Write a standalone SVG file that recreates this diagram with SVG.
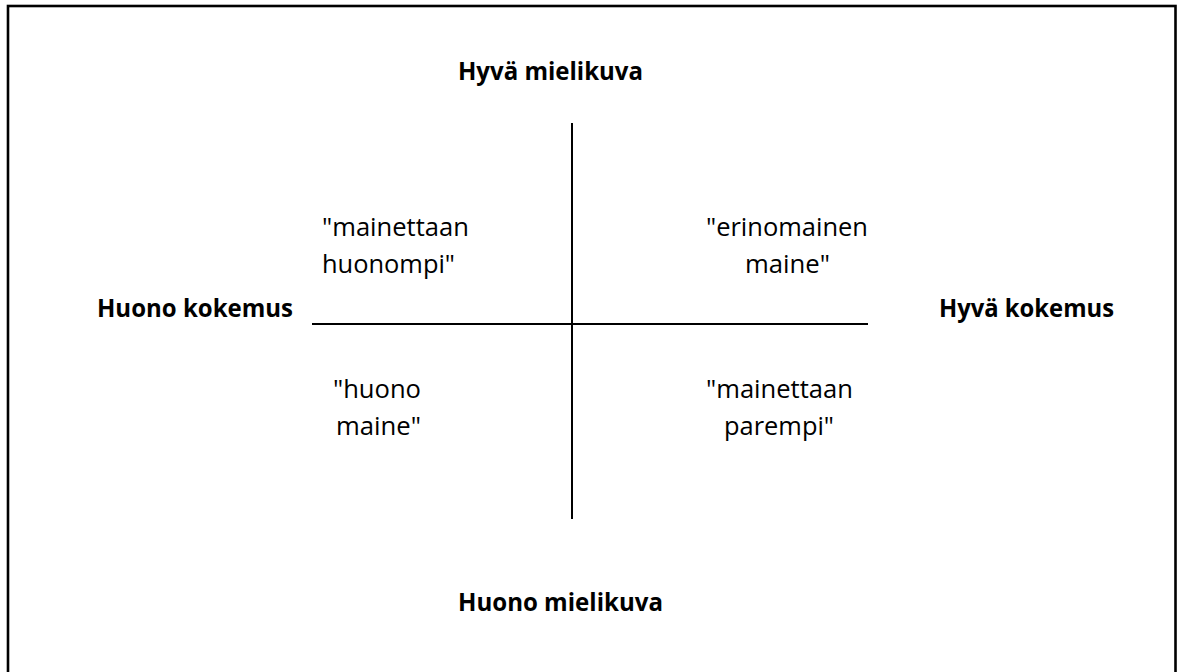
<svg xmlns="http://www.w3.org/2000/svg" width="1181" height="672" viewBox="0 0 1181 672">
<style>
.bold{font-family:"Open Sans","Noto Sans","Liberation Sans",sans-serif;font-weight:700;font-size:25px;fill:#000}
.reg{font-family:"Open Sans","Noto Sans","Liberation Sans",sans-serif;font-weight:400;font-size:25.5px;fill:#000}
.axis{stroke:#000;stroke-width:2;fill:none}
</style>
<rect x="0" y="0" width="1181" height="672" fill="#fff"/>
<rect id="frame" x="8" y="6" width="1167.5" height="720" fill="none" stroke="#000" stroke-width="2.6"/>
<g id="connectors">
<line class="axis" x1="572" y1="123" x2="572" y2="519"/>
<line class="axis" x1="312" y1="324" x2="868" y2="324"/>
</g>
<g id="label-top"><text class="bold" x="458" y="80" textLength="185" lengthAdjust="spacingAndGlyphs">Hyvä mielikuva</text></g>
<g id="label-bottom"><text class="bold" x="458" y="611" textLength="205" lengthAdjust="spacingAndGlyphs">Huono mielikuva</text></g>
<g id="label-left"><text class="bold" x="97" y="317" textLength="196" lengthAdjust="spacingAndGlyphs">Huono kokemus</text></g>
<g id="label-right"><text class="bold" x="939" y="317" textLength="175" lengthAdjust="spacingAndGlyphs">Hyvä kokemus</text></g>
<g id="q-top-left">
<text class="reg" x="322" y="236" textLength="147" lengthAdjust="spacingAndGlyphs">"mainettaan</text>
<text class="reg" x="322" y="273" textLength="133" lengthAdjust="spacingAndGlyphs">huonompi"</text>
</g>
<g id="q-top-right">
<text class="reg" x="706" y="236" textLength="162" lengthAdjust="spacingAndGlyphs">"erinomainen</text>
<text class="reg" x="745" y="273" textLength="85" lengthAdjust="spacingAndGlyphs">maine"</text>
</g>
<g id="q-bottom-left">
<text class="reg" x="333" y="398" textLength="88" lengthAdjust="spacingAndGlyphs">"huono</text>
<text class="reg" x="336" y="435" textLength="85" lengthAdjust="spacingAndGlyphs">maine"</text>
</g>
<g id="q-bottom-right">
<text class="reg" x="706" y="398" textLength="147" lengthAdjust="spacingAndGlyphs">"mainettaan</text>
<text class="reg" x="724" y="435" textLength="110" lengthAdjust="spacingAndGlyphs">parempi"</text>
</g>
</svg>
